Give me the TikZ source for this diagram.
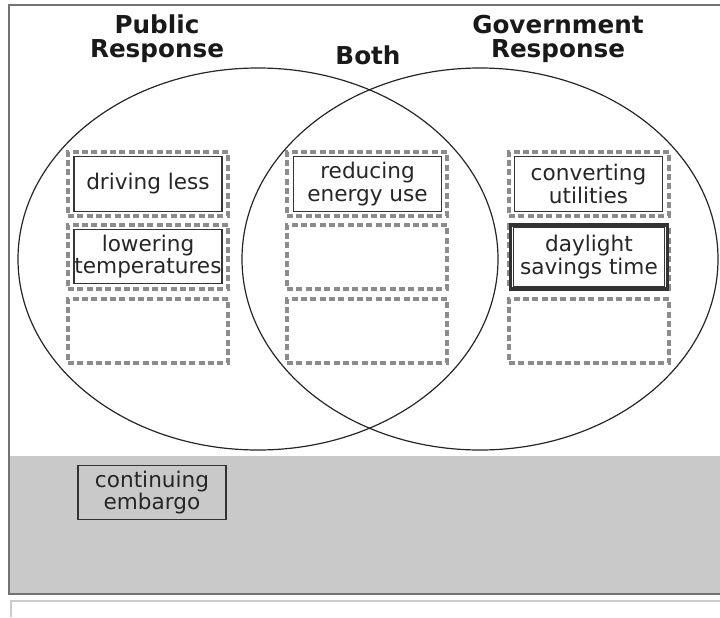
\documentclass[tikz,border=0pt]{standalone}
\usepackage{fontspec}
\setmainfont{DejaVu Sans}

\begin{document}
\begin{tikzpicture}[x=0.75pt,y=-0.75pt,
  slot/.style={draw=black!45, line width=2.6pt, dash pattern=on 4.5pt off 2.5pt, minimum width=120pt, minimum height=48pt, inner sep=0pt},
  card/.style={draw=black!80, line width=0.9pt, fill=white, text=black!85, minimum width=111pt, minimum height=41pt, inner sep=0pt, align=center, font=\fontsize{16.2}{17}\selectfont},
  head/.style={align=center, text=black!90, font=\fontsize{18.5}{18}\selectfont\bfseries}]
\useasboundingbox (0,0) rectangle (720,617);
\fill[black!21] (10,456) rectangle (724,593);
\draw[black!55, line width=1.2pt] (9,5) rectangle (724,594);
\draw[black!20, line width=1pt] (11,617) -- (11,601) -- (724,601);

\draw[line width=0.9pt, black!85] (258,259) ellipse [x radius=180pt, y radius=143.25pt];
\draw[line width=0.9pt, black!85] (480,259) ellipse [x radius=178.5pt, y radius=143.25pt];

\node[head] (public) at (157,39) {Public\\Response};
\node[head] (both) at (368,55) {Both};
\node[head] (government) at (558,39) {Government\\Response};

\foreach \c/\x in {a/148, b/367, c/589}
  \foreach \r/\y in {1/184, 2/257, 3/331}
    \node[slot] (slot\c\r) at (\x,\y) {};

\node[card] (driving) at (148,184) {driving less};
\node[card] (lowering) at (148,256.5) {lowering\\temperatures};
\node[card] (reducing) at (367.5,184) {reducing\\energy use};
\node[card] (converting) at (588.5,184) {converting\\utilities};
\node[card, line width=2.6pt, minimum width=118pt, minimum height=48pt] (daylight) at (589,257) {daylight\\savings time};
\draw[black!80, line width=0.8pt] ([shift={(3.5pt,-3.5pt)}]daylight.north west) rectangle ([shift={(-3.5pt,3.5pt)}]daylight.south east);
\node[card, fill=none] (embargo) at (152,492.5) {continuing\\embargo};
\end{tikzpicture}
\end{document}
